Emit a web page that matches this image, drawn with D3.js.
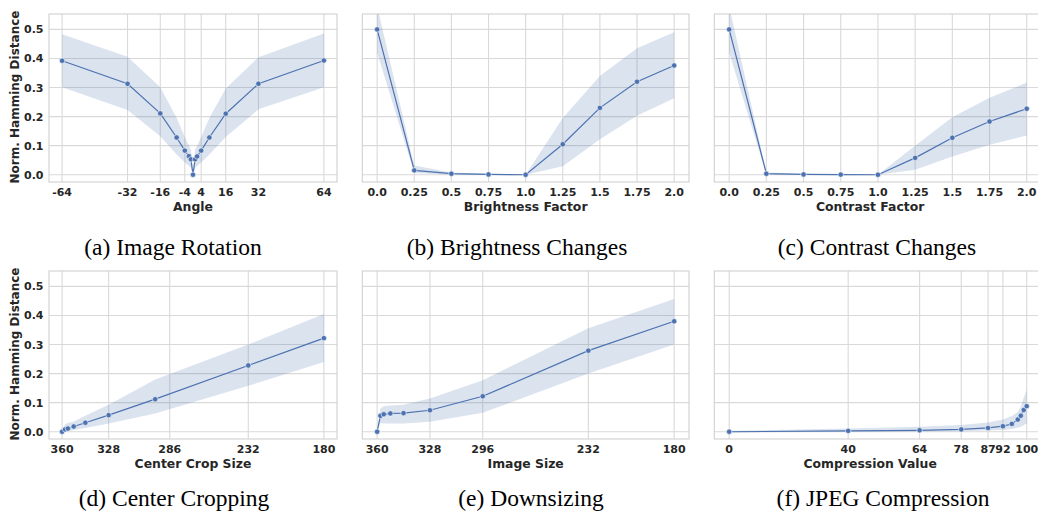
<!DOCTYPE html>
<html lang="en">
<head>
<meta charset="UTF-8">
<title>Perceptual hash robustness</title>
<script src="https://d3js.org/d3.v7.min.js"></script>
<style>
    body { margin: 0; background: white; }
    .tick-label { font-family: "DejaVu Sans", sans-serif; font-weight: bold; font-size: 11px; fill: #262626; }
    .axis-label { font-family: "DejaVu Sans", sans-serif; font-weight: bold; font-size: 12.4px; fill: #262626; }
    .caption { font-family: "Liberation Serif", "Times New Roman", serif; font-size: 23.5px; fill: #000; }
</style>
</head>
<body>
<script>
    // (a) rotation
    let angles = [-64, -32, -16, -8, -4, -2, -1, 0, 1, 2, 4, 8, 16, 32, 64];
    let angleMean = [0.392, 0.313, 0.211, 0.128, 0.083, 0.064, 0.053, 0, 0.053, 0.063, 0.083, 0.128, 0.21, 0.313, 0.393];
    let angleLo = [0.301, 0.223, 0.132, 0.07, 0.042, 0.03, 0.024, 0, 0.024, 0.03, 0.042, 0.07, 0.13, 0.225, 0.301];
    let angleHi = [0.483, 0.406, 0.301, 0.195, 0.13, 0.1, 0.085, 0, 0.085, 0.1, 0.13, 0.195, 0.297, 0.404, 0.486];
    let angleTicks = [-64, -32, -16, -4, 4, 16, 32, 64];

    // (b) brightness, (c) contrast
    let factors = [0, 0.25, 0.5, 0.75, 1.0, 1.25, 1.5, 1.75, 2.0];
    let factorTicks = ["0.0", "0.25", "0.5", "0.75", "1.0", "1.25", "1.5", "1.75", "2.0"];
    let brightMean = [0.5, 0.015, 0.0035, 0.001, 0, 0.105, 0.23, 0.32, 0.376];
    let brightLo = [0.42, 0.006, 0, 0, 0, 0.029, 0.122, 0.203, 0.263];
    let brightHi = [0.58, 0.032, 0.008, 0.003, 0, 0.195, 0.34, 0.435, 0.49];
    let contrastMean = [0.5, 0.0035, 0.001, 0.0005, 0, 0.058, 0.127, 0.183, 0.227];
    let contrastLo = [0.42, 0, 0, 0, 0, 0.017, 0.063, 0.103, 0.135];
    let contrastHi = [0.58, 0.008, 0.003, 0.002, 0, 0.1, 0.198, 0.265, 0.317];

    // (d) center crop, (e) downsizing
    let sizes = [360, 358, 356, 352, 344, 328, 296, 232, 180];
    let cropTicks = [360, 328, 286, 232, 180];
    let cropMean = [0, 0.008, 0.011, 0.018, 0.031, 0.057, 0.112, 0.228, 0.322];
    let cropLo = [0, 0, 0.002, 0.006, 0.013, 0.028, 0.063, 0.158, 0.24];
    let cropHi = [0, 0.025, 0.03, 0.035, 0.055, 0.093, 0.18, 0.3, 0.405];
    let downTicks = [360, 328, 296, 232, 180];
    let downMean = [0, 0.055, 0.06, 0.063, 0.064, 0.074, 0.122, 0.279, 0.38];
    let downLo = [0, 0.03, 0.028, 0.028, 0.028, 0.034, 0.065, 0.2, 0.3];
    let downHi = [0, 0.08, 0.088, 0.09, 0.093, 0.114, 0.177, 0.356, 0.457];

    // (f) jpeg
    let quality = [0, 40, 64, 78, 87, 92, 95, 97, 98, 99, 100];
    let jpegTicks = [0, 40, 64, 78, 87, 92, 100];
    let jpegMean = [0, 0.003, 0.005, 0.008, 0.013, 0.019, 0.027, 0.042, 0.055, 0.075, 0.088];
    let jpegLo = [-0.003, 0, 0.001, 0.002, 0.004, 0.006, 0.009, 0.014, 0.017, 0.022, 0.029];
    let jpegHi = [0.003, 0.011, 0.017, 0.023, 0.032, 0.042, 0.054, 0.068, 0.086, 0.118, 0.143];

    let yTicks = [0, 0.1, 0.2, 0.3, 0.4, 0.5];
    let blue = "#4c72b0";

    let width = 1038, height = 516;
    let svg = d3.select("body").append("svg")
        .attr("width", width)
        .attr("height", height);

    let rows = [{top: 14, bottom: 182}, {top: 271, bottom: 439}];
    let cols = [{left: 49, right: 337}, {left: 362.3, right: 689}, {left: 714.3, right: 1041.6}];

    let panels = [
        {row: 0, col: 0, x: angles, mean: angleMean, lo: angleLo, hi: angleHi, ticks: angleTicks,
         dom: [-70.4, 70.4], xlabel: "Angle", caption: "(a) Image Rotation", cx: 173},
        {row: 0, col: 1, x: factors, mean: brightMean, lo: brightLo, hi: brightHi, ticks: factors, tickText: factorTicks,
         dom: [-0.1, 2.1], xlabel: "Brightness Factor", caption: "(b) Brightness Changes", cx: 517},
        {row: 0, col: 2, x: factors, mean: contrastMean, lo: contrastLo, hi: contrastHi, ticks: factors, tickText: factorTicks,
         dom: [-0.1, 2.1], xlabel: "Contrast Factor", caption: "(c) Contrast Changes", cx: 877},
        {row: 1, col: 0, x: sizes, mean: cropMean, lo: cropLo, hi: cropHi, ticks: cropTicks,
         dom: [369, 171], xlabel: "Center Crop Size", caption: "(d) Center Cropping", cx: 174},
        {row: 1, col: 1, x: sizes, mean: downMean, lo: downLo, hi: downHi, ticks: downTicks,
         dom: [369, 171], xlabel: "Image Size", caption: "(e) Downsizing", cx: 531},
        {row: 1, col: 2, x: quality, mean: jpegMean, lo: jpegLo, hi: jpegHi, ticks: jpegTicks,
         dom: [-5, 105], xlabel: "Compression Value", caption: "(f) JPEG Compression", cx: 883}
    ];

    panels.forEach(function(p, i) {
        let r = rows[p.row], c = cols[p.col];
        let x = d3.scaleLinear().domain(p.dom).range([c.left, c.right]);
        let y = d3.scaleLinear().domain([-0.025, 0.553]).range([r.bottom, r.top]);
        let g = svg.append("g");

        g.append("clipPath").attr("id", "clip" + i)
            .append("rect")
            .attr("x", c.left).attr("y", r.top)
            .attr("width", c.right - c.left).attr("height", r.bottom - r.top);

        // grid
        g.selectAll(".vgrid").data(p.ticks).enter().append("line")
            .attr("x1", d => x(d)).attr("x2", d => x(d))
            .attr("y1", r.top).attr("y2", r.bottom)
            .attr("stroke", "#d9d9d9").attr("stroke-width", 1.1);
        g.selectAll(".hgrid").data(yTicks).enter().append("line")
            .attr("x1", c.left).attr("x2", c.right)
            .attr("y1", d => y(d)).attr("y2", d => y(d))
            .attr("stroke", "#d9d9d9").attr("stroke-width", 1.1);
        g.append("rect")
            .attr("x", c.left).attr("y", r.top)
            .attr("width", c.right - c.left).attr("height", r.bottom - r.top)
            .attr("fill", "none").attr("stroke", "#d0d0d0").attr("stroke-width", 1.1);

        let idx = d3.range(p.x.length);
        let plot = g.append("g").attr("clip-path", "url(#clip" + i + ")");

        let area = d3.area()
            .x(k => x(p.x[k]))
            .y0(k => y(p.lo[k]))
            .y1(k => y(p.hi[k]));
        plot.append("path").datum(idx)
            .attr("d", area)
            .attr("fill", blue).attr("fill-opacity", 0.2);

        let line = d3.line()
            .x(k => x(p.x[k]))
            .y(k => y(p.mean[k]));
        plot.append("path").datum(idx)
            .attr("d", line)
            .attr("fill", "none").attr("stroke", blue).attr("stroke-width", 1.2);

        plot.selectAll("circle").data(idx).enter().append("circle")
            .attr("cx", k => x(p.x[k]))
            .attr("cy", k => y(p.mean[k]))
            .attr("r", 2.7)
            .attr("fill", blue).attr("stroke", "white").attr("stroke-width", 0.6);

        // x tick labels
        g.selectAll(".xt").data(p.ticks).enter().append("text")
            .attr("class", "tick-label")
            .attr("x", d => x(d))
            .attr("y", r.bottom + 13.5)
            .attr("text-anchor", "middle")
            .text((d, j) => p.tickText ? p.tickText[j] : d);

        g.append("text").attr("class", "axis-label")
            .attr("x", (c.left + Math.min(c.right, width)) / 2 + (p.col == 2 ? -6 : 0))
            .attr("y", r.bottom + 28.5)
            .attr("text-anchor", "middle")
            .text(p.xlabel);

        if (p.col == 0) {
            g.selectAll(".yt").data(yTicks).enter().append("text")
                .attr("class", "tick-label")
                .attr("x", c.left - 5.5)
                .attr("y", d => y(d) + 4)
                .attr("text-anchor", "end")
                .text(d => d.toFixed(1));
            g.append("text").attr("class", "axis-label")
                .attr("transform", "translate(19," + ((r.top + r.bottom) / 2 - 1) + ") rotate(-90)")
                .attr("text-anchor", "middle")
                .style("font-size", "12px")
                .text("Norm. Hamming Distance");
        }

        svg.append("text").attr("class", "caption")
            .attr("x", p.cx)
            .attr("y", p.row == 0 ? 255 : 506)
            .attr("text-anchor", "middle")
            .text(p.caption);
    });
</script>
</body>
</html>
